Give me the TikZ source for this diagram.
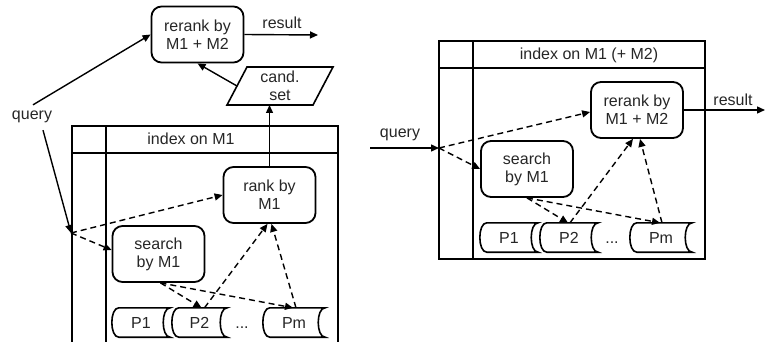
\documentclass[tikz,border=0pt]{standalone}
\usepackage{fontspec}
\setmainfont{Liberation Sans}
\usetikzlibrary{arrows.meta,calc}

% outline of a "stored data" block around a named node
\newcommand\storeshape[1]{%
  \draw[frame] ($(#1.north west)+(7,0)$) -- (#1.north east)
    .. controls ($(#1.north east)+(-9.3,0)$) and ($(#1.south east)+(-9.3,0)$) .. (#1.south east)
    -- ($(#1.south west)+(7,0)$)
    .. controls ($(#1.south west)+(-2.3,0)$) and ($(#1.north west)+(-2.3,0)$) .. cycle;}

\begin{document}
\begin{tikzpicture}[x=1pt,y=-1pt,
  every node/.style={font=\fontsize{16}{18}\selectfont, inner sep=0pt, text=black!85},
  proc/.style={draw=black, rounded corners=10pt, line width=1.8pt,
               minimum width=92pt, minimum height=56pt, align=center},
  store/.style={minimum height=29pt},
  frame/.style={line width=1.6pt},
  flow/.style={line width=1.4pt, -{Triangle[length=8pt,width=7pt]}},
  dflow/.style={flow, dash pattern=on 6pt off 4pt}]
\useasboundingbox (0,0) rectangle (765,342);

% ---------- index on M1, then rerank by M1 + M2 ----------
\draw[frame] (72,346) -- (72,126) -- (338,126) -- (338,346);
\draw[frame] (72,153) -- (338,153);
\draw[frame] (106,126) -- (106,346);
\node (hdr1) at (191,139) {index on M1};

\node[proc] (rr1) at (197.5,34.5) {rerank by\\M1 + M2};
\node[proc] (rk1) at (269.5,195) {rank by\\M1};
\node[proc] (sr1) at (158.5,254) {search\\by M1};

\node[align=center] (cs) at (280,86) {cand.\\set};
\draw[frame] (247,67) -- (333,67) -- (313,105) -- (227,105) -- cycle;
\coordinate (csb) at (270,105);
\coordinate (csl) at (237,86);

\node[store, minimum width=58pt] (p11) at (141,322.5) {P1};
\node[store, minimum width=55pt] (p12) at (199.5,322.5) {P2};
\node[store, minimum width=62pt] (p1m) at (294,322.5) {Pm};
\node[anchor=base] (dots1) at (242,328) {...};
\storeshape{p11}\storeshape{p12}\storeshape{p1m}

\node (res1) at (282,23) {result};
\coordinate (out1) at (318,35);
\node (qry1) at (32,117) {query};
\coordinate (q1) at (71,233);

\draw[flow] (rr1.east) -- (out1);
\draw[flow] ($(qry1.north)+(1,-6)$) -- (rr1.west);
\draw[flow] ($(qry1.south)+(11,7)$) -- (q1);
\draw[flow] (rk1.north) -- (rk1.north |- csb);
\draw[flow] (csl) -- (rr1.south);
\draw[dflow] (q1) -- (rk1.west);
\draw[dflow] (q1) -- ([yshift=4pt]sr1.west);
\draw[dflow] ([xshift=2pt]sr1.south) -- ([xshift=2pt]p12.north);
\draw[dflow] ([xshift=2pt]sr1.south) -- ([xshift=-1pt]p1m.north);
\draw[dflow] ([xshift=5pt]p12.north) -- ([xshift=-2pt]rk1.south);
\draw[dflow] ([xshift=2pt]p1m.north) -- ([xshift=2pt]rk1.south);

% ---------- index on M1 (+ M2) ----------
\draw[frame] (439,41) rectangle (705,259);
\draw[frame] (439,68) -- (705,68);
\draw[frame] (473,41) -- (473,259);
\node (hdr2) at (589,55) {index on M1 (+ M2)};

\node[proc] (rr2) at (637,110) {rerank by\\M1 + M2};
\node[proc] (sr2) at (527,169) {search\\by M1};

\node[store, minimum width=58pt] (p21) at (509,237.5) {P1};
\node[store, minimum width=58pt] (p22) at (569,237.5) {P2};
\node[store, minimum width=62pt] (p2m) at (661,237.5) {Pm};
\node[anchor=base] (dots2) at (612,243) {...};
\storeshape{p21}\storeshape{p22}\storeshape{p2m}

\node (res2) at (733,100) {result};
\coordinate (out2) at (765,110);
\node (qry2) at (400,135) {query};
\coordinate (qin) at (370,148);
\coordinate (q2) at (439,148);

\draw[flow] (rr2.east) -- (out2);
\draw[flow] (qin) -- (q2);
\draw[dflow] (q2) -- ([yshift=-2pt]rr2.west);
\draw[dflow] (q2) -- (sr2.west);
\draw[dflow] (sr2.south) -- ([xshift=-1pt]p22.north);
\draw[dflow] (sr2.south) -- ([xshift=-1pt]p2m.north);
\draw[dflow] ([xshift=1pt]p22.north) -- ([xshift=-4pt]rr2.south);
\draw[dflow] ([xshift=1pt]p2m.north) -- ([xshift=3pt]rr2.south);
\end{tikzpicture}
\end{document}
